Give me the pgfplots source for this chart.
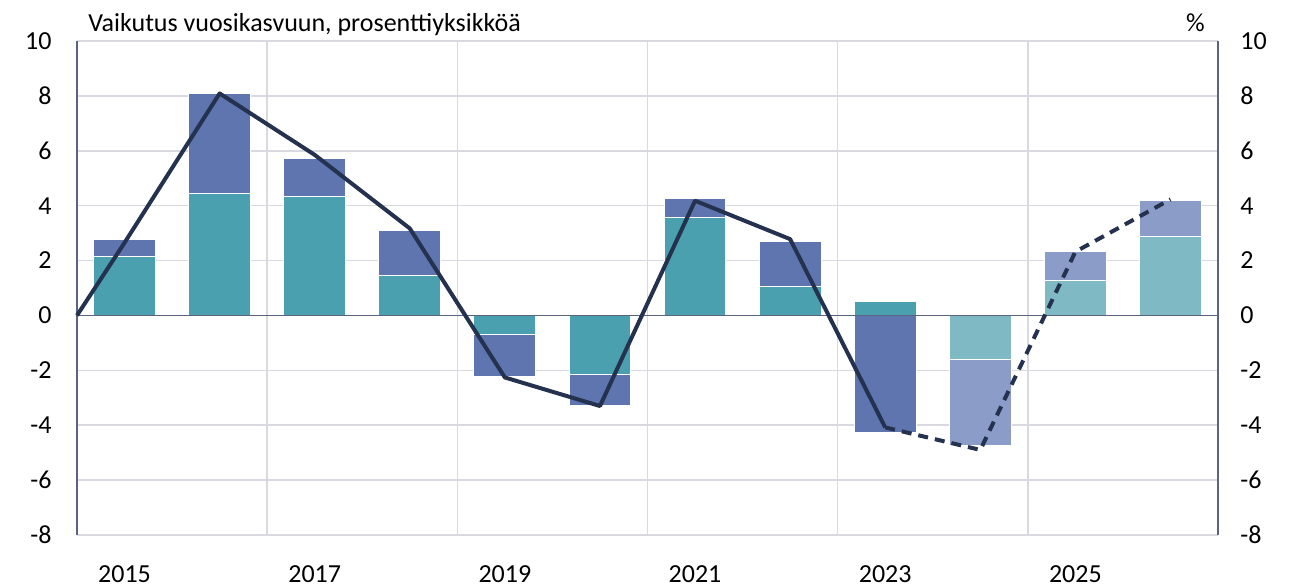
\documentclass[border=0pt]{standalone}
\usepackage{pgfplots}
\pgfplotsset{compat=1.18}
\usepackage{fontspec}
\setmainfont{Carlito}
\definecolor{tealA}{RGB}{74,160,174}
\definecolor{blueA}{RGB}{94,117,176}
\definecolor{tealF}{RGB}{127,186,196}
\definecolor{blueF}{RGB}{140,156,200}
\definecolor{lineC}{RGB}{37,50,79}
\definecolor{gridC}{RGB}{217,217,225}
\definecolor{axC}{RGB}{90,100,130}
\begin{document}
\begin{tikzpicture}
\fontsize{13}{15.6}\selectfont
\begin{axis}[
  at={(0,0)}, anchor=south west,
  scale only axis, width=570.5pt, height=247pt,
  xmin=2014.5, xmax=2026.5, ymin=-8, ymax=10,
  ytick={-8,-6,...,10},
  xtick={2015,2017,2019,2021,2023,2025},
  xticklabels={2015,2017,2019,2021,2023,2025},
  major tick length=0pt,
  extra x ticks={2016.5,2018.5,2020.5,2022.5,2024.5},
  extra x tick labels={},
  extra x tick style={grid=major, major grid style={gridC, line width=0.8pt}},
  ymajorgrids, major grid style={gridC, line width=0.8pt},
  axis line style={draw=none},
  /pgf/number format/assume math mode=true,
  ticklabel style={font=\fontsize{13}{15.6}\selectfont},
  yticklabel style={inner sep=0pt, anchor=east, xshift=-12.5pt},
  xticklabel style={inner sep=0pt, anchor=north, yshift=-15pt},
  bar width=0.65, ybar, bar shift=0pt,
  clip=false,
]
% total / blue bars (drawn first)
\addplot[ybar, fill=blueA, draw=white, line width=0.5pt] coordinates {
 (2015,2.75) (2016,8.07) (2017,5.72) (2018,3.11) (2019,-2.23) (2020,-3.29)
 (2021,4.27) (2022,2.71) (2023,-4.26)};
\addplot[ybar, fill=blueF, draw=white, line width=0.5pt] coordinates {
 (2024,-4.75) (2025,2.32) (2026,4.18)};
% teal bars
\addplot[ybar, fill=tealA, draw=white, line width=0.5pt] coordinates {
 (2015,2.14) (2016,4.45) (2017,4.33) (2018,1.47) (2019,-0.71) (2020,-2.17)
 (2021,3.57) (2022,1.05) (2023,0.52)};
\addplot[ybar, fill=tealF, draw=white, line width=0.5pt] coordinates {
 (2024,-1.59) (2025,1.26) (2026,2.87)};
% axes lines
\draw[axC, line width=0.8pt] (rel axis cs:0,0) -- (rel axis cs:0,1);
\draw[axC, line width=0.8pt] (rel axis cs:1,0) -- (rel axis cs:1,1);
\draw[axC, line width=0.8pt] (axis cs:2014.5,0) -- (axis cs:2026.5,0);
% line
\addplot[sharp plot, lineC, line width=2pt, line join=round] coordinates {
 (2014.5,0) (2015,2.65) (2016,8.09) (2017,5.85) (2018,3.17) (2019,-2.26)
 (2020,-3.30) (2021,4.18) (2022,2.78) (2023,-4.08)};
\addplot[sharp plot, lineC, line width=2pt, dash pattern=on 5pt off 3.5pt, line join=round] coordinates {
 (2023,-4.08) (2024,-4.90) (2025,2.32) (2026,4.23)};
\node[anchor=base west, inner sep=0pt] at ([xshift=5.5pt,yshift=4.5pt]rel axis cs:0,1) {Vaikutus vuosikasvuun, prosenttiyksikköä};
\node[anchor=base east, inner sep=0pt] at ([xshift=-6.5pt,yshift=4.5pt]rel axis cs:1,1) {\%};
\end{axis}
\begin{axis}[
  at={(0,0)}, anchor=south west,
  scale only axis, width=570.5pt, height=247pt,
  xmin=2014.5, xmax=2026.5, ymin=-8, ymax=10,
  ytick={-8,-6,...,10}, xtick=\empty,
  axis x line=none, axis y line*=right,
  axis line style={draw=none},
  major tick length=0pt,
  /pgf/number format/assume math mode=true,
  ticklabel style={font=\fontsize{13}{15.6}\selectfont},
  yticklabel style={inner sep=0pt, anchor=west, xshift=11pt},
]
\end{axis}
\pgfresetboundingbox
\path[use as bounding box] (-38.5pt,-26pt) rectangle (612.5pt,267.5pt);
\end{tikzpicture}
\end{document}
